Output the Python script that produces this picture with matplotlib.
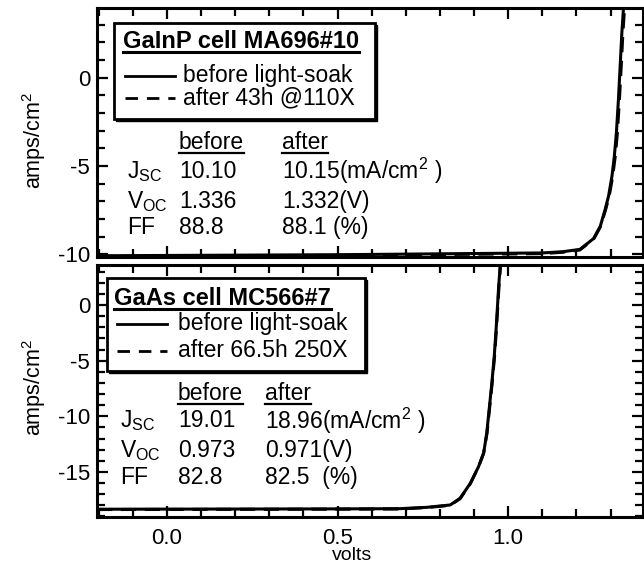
import matplotlib
matplotlib.use("Agg")
import matplotlib.pyplot as plt
from matplotlib.lines import Line2D
from matplotlib.patches import Rectangle
from matplotlib.ticker import MultipleLocator

plt.rcParams['font.family'] = ['Liberation Sans', 'DejaVu Sans']
plt.rcParams['mathtext.fontset'] = 'custom'
plt.rcParams['mathtext.rm'] = 'Liberation Sans'
plt.rcParams['mathtext.it'] = 'Liberation Sans'
plt.rcParams['mathtext.bf'] = 'Liberation Sans:bold'
plt.rcParams['axes.unicode_minus'] = False

# GaInP cell MA696#10 (top panel)
gainp_v_before = [-0.205, 0.50, 1.10, 1.16, 1.21, 1.25, 1.27, 1.284, 1.294, 1.304,
                  1.311, 1.317, 1.323, 1.328, 1.333, 1.338]
gainp_i_before = [-10.08, -10.02, -9.92, -9.85, -9.72, -9.11, -8.40, -7.46, -6.71, -5.58,
                  -4.45, -3.12, -1.24, 0.64, 2.53, 4.0]
gainp_v_after = [-0.205, 0.50, 1.10, 1.16, 1.21, 1.25, 1.27, 1.285, 1.296, 1.306,
                 1.314, 1.320, 1.326, 1.331, 1.336, 1.341]
gainp_i_after = [-10.12, -10.06, -9.96, -9.88, -9.75, -9.15, -8.45, -7.50, -6.70, -5.60,
                 -4.40, -3.10, -1.20, 0.60, 2.50, 4.0]

# GaAs cell MC566#7 (bottom panel)
gaas_v_before = [-0.205, 0.50, 0.683, 0.762, 0.830, 0.859, 0.889, 0.913, 0.928, 0.937,
                 0.945, 0.952, 0.959, 0.965, 0.972, 0.977]
gaas_i_before = [-18.35, -18.32, -18.30, -18.18, -17.97, -17.37, -16.02, -14.53, -13.32,
                 -11.53, -9.14, -7.03, -4.65, -1.95, 1.64, 3.75]
gaas_v_after = [-0.205, 0.50, 0.683, 0.762, 0.830, 0.859, 0.889, 0.913, 0.928, 0.938,
                0.946, 0.953, 0.960, 0.966, 0.973, 0.978]
gaas_i_after = [-18.38, -18.35, -18.33, -18.20, -18.00, -17.40, -16.05, -14.55, -13.30,
                -11.50, -9.10, -7.00, -4.60, -1.90, 1.70, 3.75]

panels = [
    dict(title='GaInP cell MA696#10', after_label='after 43h @110X',
         vb=gainp_v_before, ib=gainp_i_before, va=gainp_v_after, ia=gainp_i_after,
         ylim=(-10.15, 3.95), yticks=[-10, -5, 0],
         jsc=('10.10', '10.15(mA/cm$^2$ )'), voc=('1.336', '1.332(V)'), ff=('88.8', '88.1 (%)')),
    dict(title='GaAs cell MC566#7', after_label='after 66.5h 250X',
         vb=gaas_v_before, ib=gaas_i_before, va=gaas_v_after, ia=gaas_i_after,
         ylim=(-19.05, 3.6), yticks=[-15, -10, -5, 0],
         jsc=('19.01', '18.96(mA/cm$^2$ )'), voc=('0.973', '0.971(V)'), ff=('82.8', '82.5  (%)')),
]

# legend/table layout in axes fraction: box, title, line rows, header, rows, columns
layouts = [
    dict(box=(0.031, 0.555, 0.478, 0.385), title=(0.048, 0.864), l1=0.728, l2=0.64,
         seg=(0.051, 0.143), txt=0.158, head=0.46, rows=(0.344, 0.224, 0.12),
         cols=(0.055, 0.15, 0.339)),
    dict(box=(0.018, 0.581, 0.473, 0.368), title=(0.031, 0.866), l1=0.767, l2=0.66,
         seg=(0.037, 0.128), txt=0.148, head=0.49, rows=(0.383, 0.265, 0.158),
         cols=(0.042, 0.148, 0.308)),
]

W, H = 644, 565
fig = plt.figure(figsize=(W / 100, H / 100), dpi=100)
ax_top = fig.add_axes([97 / W, 1 - 257 / H, 546 / W, 249 / H])
ax_bot = fig.add_axes([97 / W, 1 - 517 / H, 546 / W, 252 / H])

FS = 16.5
underlines = []

for ax, p, lay in zip([ax_top, ax_bot], panels, layouts):
    ax.plot(p['va'], p['ia'], color='black', lw=2.2, linestyle=(0, (5, 2.8)))
    ax.plot(p['vb'], p['ib'], color='black', lw=2.2)
    ax.set_xlim(-0.205, 1.395)
    ax.set_ylim(*p['ylim'])
    ax.set_yticks(p['yticks'])
    ax.xaxis.set_major_locator(MultipleLocator(0.5))
    ax.xaxis.set_minor_locator(MultipleLocator(0.1))
    ax.yaxis.set_minor_locator(MultipleLocator(1))
    ax.tick_params(which='both', direction='in', top=True, right=True, width=1.6,
                   labelsize=16, pad=5)
    ax.tick_params(axis='x', pad=8)
    ax.tick_params(which='major', length=8)
    ax.tick_params(which='minor', length=5.5)
    for s in ax.spines.values():
        s.set_linewidth(2.2)

    bx, by, bw, bh = lay['box']
    tr = ax.transAxes
    ax.add_patch(Rectangle((bx + 0.004, by - 0.008), bw, bh, transform=tr,
                           facecolor='black', edgecolor='black', zorder=4))
    ax.add_patch(Rectangle((bx, by), bw, bh, transform=tr, facecolor='white',
                           edgecolor='black', lw=2, zorder=5))
    t = ax.text(lay['title'][0], lay['title'][1], p['title'], transform=tr, fontsize=FS + 0.5,
                fontweight='bold', va='center', ha='left', zorder=6)
    underlines.append((ax, t, 2.2))
    s0, s1 = lay['seg']
    ax.add_line(Line2D([s0, s1], [lay['l1'], lay['l1']], transform=tr, color='black',
                       lw=2, zorder=6))
    ax.add_line(Line2D([s0, s1], [lay['l2'], lay['l2']], transform=tr, color='black',
                       lw=2, linestyle=(0, (4.5, 3.2)), zorder=6))
    ax.text(lay['txt'], lay['l1'], 'before light-soak', transform=tr, fontsize=FS,
            va='center', ha='left', zorder=6)
    ax.text(lay['txt'], lay['l2'], p['after_label'], transform=tr, fontsize=FS,
            va='center', ha='left', zorder=6)

    c0, c1, c2 = lay['cols']
    for col, word in [(c1, 'before'), (c2, 'after')]:
        t = ax.text(col, lay['head'], word, transform=tr, fontsize=FS, va='center',
                    ha='left')
        underlines.append((ax, t, 1.6))
    labels = ['J$_{\\mathrm{SC}}$', 'V$_{\\mathrm{OC}}$', 'FF']
    for y, lab, vals in zip(lay['rows'], labels, [p['jsc'], p['voc'], p['ff']]):
        ax.text(c0, y, lab, transform=tr, fontsize=FS, va='center', ha='left')
        ax.text(c1, y, vals[0], transform=tr, fontsize=FS, va='center', ha='left')
        ax.text(c2, y, vals[1], transform=tr, fontsize=FS, va='center', ha='left')

ax_top.tick_params(labelbottom=False)

fig.text(34 / W, 1 - 140 / H, 'amps/cm$^2$', rotation=90, fontsize=15.5,
         ha='center', va='center')
fig.text(34 / W, 1 - 387 / H, 'amps/cm$^2$', rotation=90, fontsize=15.5,
         ha='center', va='center')
fig.text(352 / W, 1 - 555 / H, 'volts', fontsize=14, ha='center', va='center')

# underline selected labels
fig.canvas.draw()
renderer = fig.canvas.get_renderer()
for ax, t, lw in underlines:
    bb = t.get_window_extent(renderer)
    y = bb.y0 + 1
    fig.add_artist(Line2D([bb.x0 / W, bb.x1 / W], [y / H, y / H], transform=fig.transFigure,
                          color='black', lw=lw, zorder=7))

fig.savefig('out.png', dpi=100)
